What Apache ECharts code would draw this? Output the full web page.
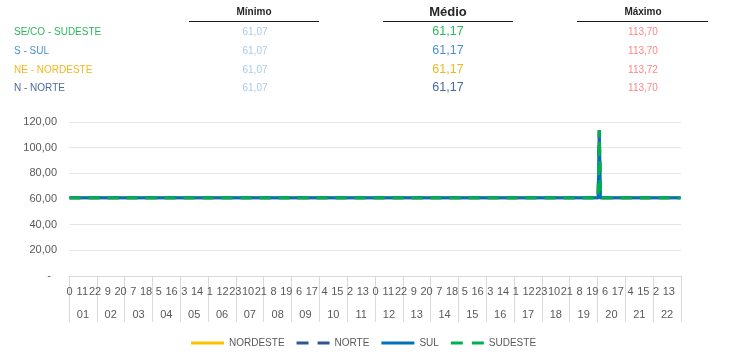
<!DOCTYPE html>
<html>
<head>
<meta charset="utf-8">
<script src="https://cdn.jsdelivr.net/npm/echarts@6/dist/echarts.min.js"></script>
<style>
html,body{margin:0;padding:0;background:#fff;}
#chart{width:735px;height:362px;}
</style>
</head>
<body>
<div id="chart"></div>
<script>
// ---- Data ----
const days = ['01','02','03','04','05','06','07','08','09','10','11','12','13','14','15','16','17','18','19','20','21','22'];
const hours = [0,1,2,3,4,5,6,7,8,9,10,11,12,13,14,15,16,17,18,19,20,21,22,23];
const seriesNames = ['NORDESTE','NORTE','SUL','SUDESTE'];
// hourly values as runs of [value, count] (22 days x 24 h = 528 points)
const nordesteRuns = [[61.07, 457], [113.72, 1], [61.07, 70]];
const norteRuns    = [[61.07, 457], [113.70, 1], [61.07, 70]];
const sulRuns      = [[61.07, 457], [113.70, 1], [61.07, 70]];
const sudesteRuns  = [[61.07, 457], [113.70, 1], [61.07, 70]];
// summary table
const tableRegions = ['SE/CO - SUDESTE','S - SUL','NE - NORDESTE','N - NORTE'];
const tableMin = ['61,07','61,07','61,07','61,07'];
const tableAvg = ['61,17','61,17','61,17','61,17'];
const tableMax = ['113,70','113,70','113,72','113,70'];
const yTicks = [0,20,40,60,80,100,120];

// ---- Build ----
function expand(runs){
  const out = [];
  runs.forEach(([v,n]) => { for (let i=0;i<n;i++) out.push(v); });
  return out;
}
const categories = [];
days.forEach(d => hours.forEach(h => categories.push(d + '|' + h)));

const regionColors = ['#2DB55D','#4A8FD8','#F2B71E','#4A69A2'];
const font = 'Liberation Sans, Arial, sans-serif';
const txt = '#595959';

const graphics = [];
const rowY = [32, 51, 70, 88];
graphics.push({type:'text', x:254, y:12, style:{text:'Mínimo', font:'bold 10px '+font, fill:'#262626', align:'center', verticalAlign:'middle'}});
graphics.push({type:'text', x:448, y:12, style:{text:'Médio', font:'bold 13px '+font, fill:'#262626', align:'center', verticalAlign:'middle'}});
graphics.push({type:'text', x:643, y:12, style:{text:'Máximo', font:'bold 10px '+font, fill:'#262626', align:'center', verticalAlign:'middle'}});
[[189,319],[383,513],[577,708]].forEach(([a,b]) => {
  graphics.push({type:'line', shape:{x1:a,y1:21.5,x2:b,y2:21.5}, style:{stroke:'#1a1a1a', lineWidth:1}});
});
tableRegions.forEach((r,i) => {
  graphics.push({type:'text', x:14, y:rowY[i], style:{text:r, font:'10px '+font, fill:regionColors[i], align:'left', verticalAlign:'middle'}});
  graphics.push({type:'text', x:255, y:rowY[i], style:{text:tableMin[i], font:'10px '+font, fill:'#A9CBEA', align:'center', verticalAlign:'middle'}});
  graphics.push({type:'text', x:448, y:rowY[i], style:{text:tableAvg[i], font:'12.5px '+font, fill:regionColors[i], align:'center', verticalAlign:'middle'}});
  graphics.push({type:'text', x:643, y:rowY[i], style:{text:tableMax[i], font:'10px '+font, fill:'#FF8585', align:'center', verticalAlign:'middle'}});
});

const lineColors = ['#FFC000','#2F5597','#0070C0','#00B050'];
const dashes = ['solid',[11,8],'solid',[11,8]];
const runsList = [nordesteRuns, norteRuns, sulRuns, sudesteRuns];
const solidIcon = 'path://M0,0H33V3H0Z';
const dashIcon = 'path://M0,0H12V3H0Z M21,0H33V3H21Z';
const legendIcons = [solidIcon, dashIcon, solidIcon, dashIcon];

const chart = echarts.init(document.getElementById('chart'), null, {renderer:'canvas'});
chart.setOption({
  animation:false,
  backgroundColor:'#fff',
  textStyle:{fontFamily:font},
  graphic: graphics,
  grid:{left:69, right:54, top:122, bottom:86, containLabel:false},
  legend:{
    data: seriesNames.map((n,i) => ({name:n, icon:legendIcons[i]})),
    left:186, top:333,
    itemWidth:33, itemHeight:3, itemGap:12,
    textStyle:{color:txt, fontSize:10, fontFamily:font}
  },
  xAxis:[
    {
      type:'category', data:categories, boundaryGap:true, position:'bottom',
      axisLine:{show:true, lineStyle:{color:'#D9D9D9'}},
      axisTick:{show:false},
      axisLabel:{interval:10, margin:10, color:txt, fontSize:11, fontFamily:font,
        formatter:v => v.split('|')[1]},
      splitLine:{show:false}
    },
    {
      type:'category', data:days, boundaryGap:true, position:'bottom',
      axisLine:{show:false},
      axisTick:{show:true, length:46, lineStyle:{color:'#D9D9D9'}},
      axisLabel:{interval:0, margin:33, color:txt, fontSize:11, fontFamily:font},
      splitLine:{show:false}
    }
  ],
  yAxis:{
    type:'value', min:yTicks[0], max:yTicks[yTicks.length-1], interval:20,
    axisLine:{show:false}, axisTick:{show:false},
    axisLabel:{margin:12, color:txt, fontSize:11, fontFamily:font,
      formatter:v => v === 0 ? '-  ' : v.toFixed(2).replace('.', ',')},
    splitLine:{lineStyle:{color:'#E6E6E6', width:1}}
  },
  series: seriesNames.map((n,i) => ({
    name:n, type:'line', xAxisIndex:0, data:expand(runsList[i]),
    symbol:'none', showSymbol:false,
    lineStyle:{color:lineColors[i], width:3, type:dashes[i]},
    itemStyle:{color:lineColors[i]}
  }))
});
</script>
</body>
</html>
